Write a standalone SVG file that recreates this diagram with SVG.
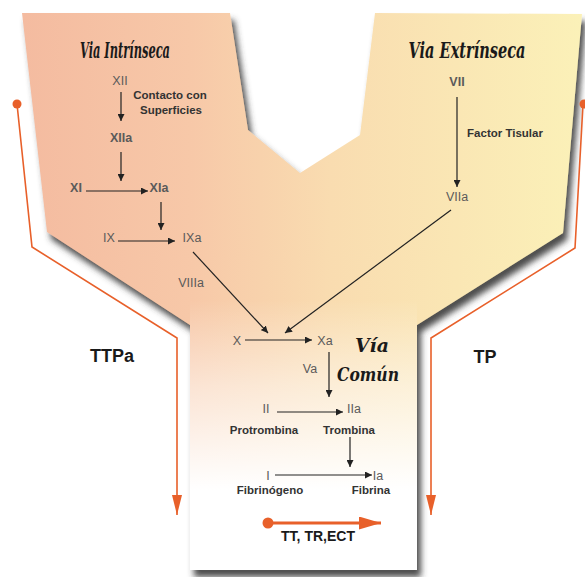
<svg xmlns="http://www.w3.org/2000/svg" width="585" height="577" viewBox="0 0 585 577">
<defs>
<linearGradient id="gH" x1="22" y1="0" x2="583" y2="0" gradientUnits="userSpaceOnUse">
<stop offset="0" stop-color="#f4bba0"/>
<stop offset="0.3" stop-color="#f7c8a8"/>
<stop offset="0.55" stop-color="#f9dcb0"/>
<stop offset="1" stop-color="#fbf1b8"/>
</linearGradient>
<linearGradient id="gV" x1="0" y1="300" x2="0" y2="490" gradientUnits="userSpaceOnUse">
<stop offset="0" stop-color="#ffffff" stop-opacity="0"/>
<stop offset="0.45" stop-color="#ffffff" stop-opacity="0.5"/>
<stop offset="1" stop-color="#ffffff" stop-opacity="1"/>
</linearGradient>
<filter id="sh" x="-10%" y="-10%" width="120%" height="120%">
<feGaussianBlur in="SourceAlpha" stdDeviation="3"/>
<feOffset dx="4" dy="7" result="b"/>
<feFlood flood-color="#3a3a3a" flood-opacity="0.9"/>
<feComposite in2="b" operator="in"/>
<feMerge><feMergeNode/><feMergeNode in="SourceGraphic"/></feMerge>
</filter>
<marker id="ah" viewBox="0 0 10 10" refX="10" refY="5" markerWidth="7" markerHeight="7" markerUnits="userSpaceOnUse" orient="auto">
<path d="M0,0 L10,5 L0,10 Z" fill="#222"/>
</marker>
<marker id="oh" viewBox="0 0 10 10" refX="10" refY="5" markerWidth="20" markerHeight="10" markerUnits="userSpaceOnUse" orient="auto" preserveAspectRatio="none">
<path d="M0,0 L10,5 L0,10 Z" fill="#e8602a"/>
</marker>
<marker id="ohb" viewBox="0 0 10 10" refX="10" refY="5" markerWidth="22" markerHeight="13" markerUnits="userSpaceOnUse" orient="auto" preserveAspectRatio="none">
<path d="M0,0 L10,5 L0,10 Z" fill="#e8602a"/>
</marker>
</defs>
<style>
.num{font-family:"Liberation Sans",Arial,sans-serif;font-size:12.5px;fill:#5a5a5a;text-anchor:middle}
.lbl{font-family:"Liberation Sans",Arial,sans-serif;font-size:11.5px;font-weight:bold;fill:#333;text-anchor:middle}
.big{font-family:"Liberation Sans",Arial,sans-serif;font-size:18px;font-weight:bold;fill:#1a1a1a;text-anchor:middle}
.ttl{font-family:"DejaVu Serif","Liberation Serif",serif;font-style:italic;font-weight:bold;fill:#1a1a1a;text-anchor:middle}
.c{stroke:#222;stroke-width:1.2;fill:none}
.o{stroke:#e8602a;stroke-width:1.6;fill:none}
</style>
<rect width="585" height="577" fill="#ffffff"/>
<g id="shape" filter="url(#sh)">
<path d="M22,13 L230,13 L248,130 L300,173 L360,135 L375,13 L582,14 L563,233 L417,325 L417,570 L190,570 L190,325 L47,232 Z" fill="url(#gH)"/>
<path d="M190,300 L417,300 L417,570 L190,570 Z" fill="url(#gV)"/>
</g>
<g id="titles">
<text class="ttl" x="125" y="58" font-size="22" textLength="90" lengthAdjust="spacingAndGlyphs">Via Intrínseca</text>
<text class="ttl" x="467" y="58" font-size="22" textLength="117" lengthAdjust="spacingAndGlyphs">Via Extrínseca</text>
<text class="ttl" x="372" y="352" font-size="18" textLength="34" lengthAdjust="spacingAndGlyphs">Vía</text>
<text class="ttl" x="368" y="381" font-size="18" textLength="62" lengthAdjust="spacingAndGlyphs">Común</text>
</g>
<g id="connectors">
<line class="c" x1="121" y1="92" x2="121" y2="121" marker-end="url(#ah)"/>
<line class="c" x1="121" y1="152" x2="121" y2="181" marker-end="url(#ah)"/>
<line class="c" x1="86" y1="191" x2="148" y2="191" marker-end="url(#ah)"/>
<line class="c" x1="161" y1="202" x2="161" y2="230" marker-end="url(#ah)"/>
<line class="c" x1="118" y1="241" x2="175" y2="241" marker-end="url(#ah)"/>
<line class="c" x1="193" y1="252" x2="268" y2="333" marker-end="url(#ah)"/>
<line class="c" x1="457" y1="97" x2="457" y2="187" marker-end="url(#ah)"/>
<line class="c" x1="451" y1="210" x2="285" y2="333" marker-end="url(#ah)"/>
<line class="c" x1="245" y1="340" x2="312" y2="340" marker-end="url(#ah)"/>
<line class="c" x1="329" y1="352" x2="329" y2="397" marker-end="url(#ah)"/>
<line class="c" x1="277" y1="412" x2="343" y2="412" marker-end="url(#ah)"/>
<line class="c" x1="350" y1="437" x2="350" y2="467" marker-end="url(#ah)"/>
<line class="c" x1="275" y1="475" x2="372" y2="475" marker-end="url(#ah)"/>
</g>
<g id="factors">
<text class="num" x="120" y="85">XII</text>
<text class="num" x="121" y="142" font-weight="bold">XIIa</text>
<text class="num" x="76" y="192" font-weight="bold">XI</text>
<text class="num" x="159" y="192" font-weight="bold">XIa</text>
<text class="num" x="109" y="242">IX</text>
<text class="num" x="192" y="242">IXa</text>
<text class="num" x="191" y="287">VIIIa</text>
<text class="num" x="457" y="86" font-weight="bold">VII</text>
<text class="num" x="457" y="201">VIIa</text>
<text class="num" x="237" y="345">X</text>
<text class="num" x="325" y="345">Xa</text>
<text class="num" x="310" y="373">Va</text>
<text class="num" x="266" y="413">II</text>
<text class="num" x="354" y="413">IIa</text>
<text class="num" x="268" y="480">I</text>
<text class="num" x="378" y="480">Ia</text>
</g>
<g id="labels">
<text class="lbl" x="170" y="99">Contacto con</text>
<text class="lbl" x="171" y="114">Superficies</text>
<text class="lbl" x="505" y="137">Factor Tisular</text>
<text class="lbl" x="264" y="434">Protrombina</text>
<text class="lbl" x="349" y="434">Trombina</text>
<text class="lbl" x="270" y="494">Fibrinógeno</text>
<text class="lbl" x="371" y="494">Fibrina</text>
</g>
<g id="tests">
<circle cx="17" cy="104" r="4.5" fill="#e8602a"/>
<polyline class="o" points="17,104 32,247 177,338 177,515" marker-end="url(#oh)"/>
<circle cx="584" cy="104" r="4.5" fill="#e8602a"/>
<polyline class="o" points="583,104 575,248 431,338 431,515" marker-end="url(#oh)"/>
<circle cx="268" cy="523" r="5.5" fill="#e8602a"/>
<line x1="268" y1="523" x2="381" y2="523" stroke="#e8602a" stroke-width="3" marker-end="url(#ohb)"/>
<text class="big" x="112" y="362">TTPa</text>
<text class="big" x="485" y="363">TP</text>
<text class="big" x="318" y="541" style="font-size:14px">TT, TR,ECT</text>
</g>
</svg>
